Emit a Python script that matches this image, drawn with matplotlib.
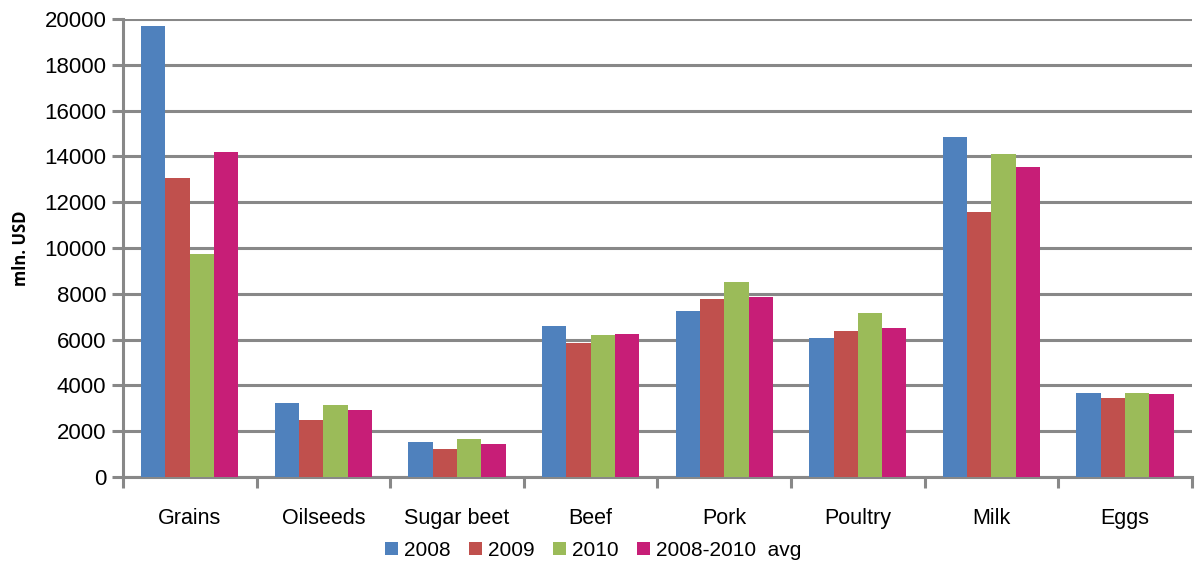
import numpy as np
import matplotlib
matplotlib.use("Agg")
import matplotlib.pyplot as plt

categories = ["Grains", "Oilseeds", "Sugar beet", "Beef", "Pork", "Poultry", "Milk", "Eggs"]
series_names = ["2008", "2009", "2010", "2008-2010  avg"]
v2008 = [19700, 3230, 1530, 6590, 7250, 6070, 14850, 3670]
v2009 = [13050, 2490, 1220, 5850, 7770, 6380, 11570, 3450]
v2010 = [9750, 3140, 1660, 6200, 8520, 7160, 14100, 3670]
vavg = [14200, 2930, 1440, 6240, 7860, 6500, 13540, 3620]
colors = ["#4F81BD", "#C0504D", "#9BBB59", "#C71E77"]

plt.rcParams["font.family"] = ["Liberation Sans", "DejaVu Sans"]

fig = plt.figure(figsize=(12.01, 5.67), dpi=100)
ax = fig.add_axes([0.1024, 0.1587, 0.89, 0.8078])

x = np.arange(len(categories))
w = 1 / 5.5
for i, (vals, name, c) in enumerate(zip([v2008, v2009, v2010, vavg], series_names, colors)):
    ax.bar(x + (i - 1.5) * w, vals, width=w, color=c, label=name, zorder=3)

ax.set_xlim(-0.5, len(categories) - 0.5)
ax.set_ylim(0, 20000)
ax.set_yticks(np.arange(0, 20001, 2000))
ax.yaxis.grid(True, color="#888888", linewidth=2.2, zorder=0)
ax.set_axisbelow(True)

for s in ["top", "right"]:
    ax.spines[s].set_visible(False)
for s in ["left", "bottom"]:
    ax.spines[s].set_color("#888888")
    ax.spines[s].set_linewidth(2.2)

ax.set_xticks(x)
ax.set_xticklabels(categories, fontsize=15.5)
ax.tick_params(axis="x", which="major", length=0, pad=22)
ax.set_xticks(np.arange(-0.5, len(categories), 1), minor=True)
ax.tick_params(axis="x", which="minor", length=8, width=2.2, color="#888888")
ax.tick_params(axis="y", length=8, width=2.2, color="#888888", labelsize=16, pad=4)

ax.set_ylabel("mln. USD", fontsize=12, fontweight="bold", family=["Open Sans", "DejaVu Sans"], labelpad=10)

ax.legend(loc="center", bbox_to_anchor=(0.44, -0.16), ncol=4, frameon=False,
          fontsize=15, handlelength=0.6, handleheight=0.6, handletextpad=0.3,
          columnspacing=0.9, borderpad=0.2)

fig.savefig("out.png", dpi=100)
